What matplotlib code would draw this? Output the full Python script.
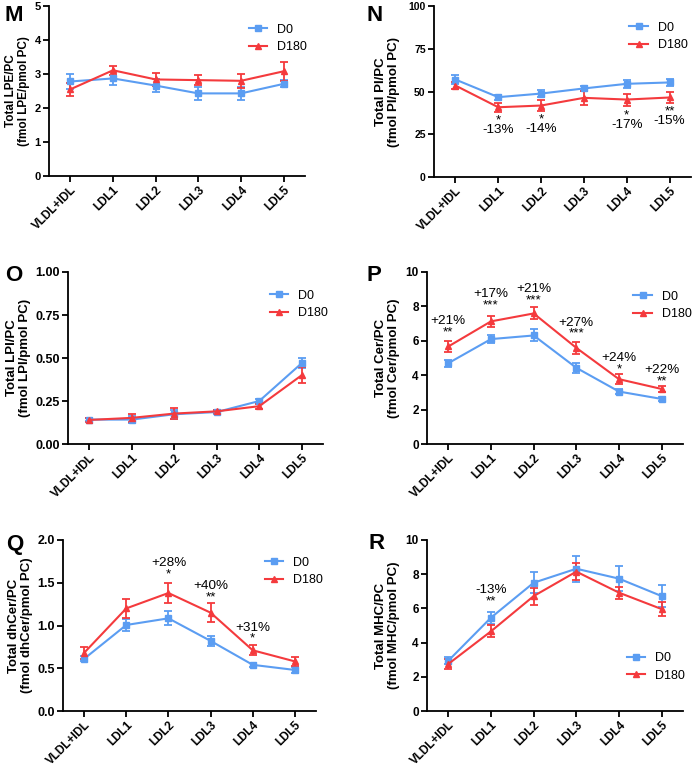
import matplotlib
matplotlib.use('Agg')
import matplotlib.pyplot as plt
from matplotlib.lines import Line2D
import numpy as np

plt.rcParams['font.family'] = ['Liberation Sans', 'DejaVu Sans']

fractions = ['VLDL+IDL', 'LDL1', 'LDL2', 'LDL3', 'LDL4', 'LDL5']
groups = ['D0', 'D180']

# panel M - LPE
lpe_d0 = [2.78, 2.87, 2.66, 2.43, 2.43, 2.71]
lpe_d0_err = [0.22, 0.20, 0.18, 0.18, 0.18, 0.10]
lpe_d180 = [2.55, 3.11, 2.84, 2.82, 2.80, 3.08]
lpe_d180_err = [0.20, 0.14, 0.20, 0.14, 0.20, 0.28]

# panel N - PI
pi_d0 = [57.0, 46.7, 48.8, 51.8, 54.5, 55.3]
pi_d0_err = [2.5, 1.5, 2.0, 1.5, 2.5, 2.0]
pi_d180 = [53.5, 40.8, 41.8, 46.3, 45.3, 46.5]
pi_d180_err = [2.0, 2.5, 3.0, 4.0, 3.5, 3.0]

# panel O - LPI
lpi_d0 = [0.142, 0.142, 0.173, 0.186, 0.25, 0.47]
lpi_d0_err = [0.01, 0.02, 0.025, 0.01, 0.01, 0.03]
lpi_d180 = [0.14, 0.152, 0.177, 0.19, 0.22, 0.40]
lpi_d180_err = [0.01, 0.025, 0.03, 0.01, 0.015, 0.045]

# panel P - Cer
cer_d0 = [4.70, 6.10, 6.31, 4.43, 3.05, 2.62]
cer_d0_err = [0.2, 0.25, 0.35, 0.3, 0.15, 0.1]
cer_d180 = [5.67, 7.13, 7.59, 5.59, 3.77, 3.20]
cer_d180_err = [0.3, 0.3, 0.35, 0.35, 0.3, 0.2]

# panel Q - dhCer
dhcer_d0 = [0.61, 1.006, 1.084, 0.82, 0.54, 0.48]
dhcer_d0_err = [0.03, 0.07, 0.08, 0.06, 0.02, 0.03]
dhcer_d180 = [0.68, 1.20, 1.38, 1.15, 0.71, 0.58]
dhcer_d180_err = [0.07, 0.11, 0.12, 0.11, 0.06, 0.05]

# panel R - MHC
mhc_d0 = [2.94, 5.46, 7.50, 8.32, 7.74, 6.72]
mhc_d0_err = [0.2, 0.35, 0.6, 0.75, 0.75, 0.65]
mhc_d180 = [2.75, 4.66, 6.72, 8.15, 6.92, 5.96]
mhc_d180_err = [0.3, 0.35, 0.5, 0.5, 0.35, 0.4]

# significance notes: (fraction index, label, y of label centre)
pi_notes = [(1, '*\n-13%', 30.3), (2, '*\n-14%', 31.0),
            (4, '*\n-17%', 33.3), (5, '**\n-15%', 35.6)]
cer_notes = [(0, '+21%\n**', 6.83), (1, '+17%\n***', 8.38),
             (2, '+21%\n***', 8.68), (3, '+27%\n***', 6.73),
             (4, '+24%\n*', 4.68), (5, '+22%\n**', 3.96)]
dhcer_notes = [(2, '+28%\n*', 1.66), (3, '+40%\n**', 1.40),
               (4, '+31%\n*', 0.91)]
mhc_notes = [(1, '-13%\n**', 6.75)]

blue = '#5b9df2'
red = '#f43a3d'

fig = plt.figure(figsize=(6.97, 7.69), dpi=100)

# letter, axes rect, lipid, series..., y range, y ticks, tick format, notes,
# legend loc, legend anchor, letter position, tick font, label font, label pad, note spacing
panels = [
    ('M', [0.0703, 0.7711, 0.3673, 0.2211], 'LPE', lpe_d0, lpe_d0_err, lpe_d180, lpe_d180_err,
     (0, 5), [0, 1, 2, 3, 4, 5], '{:.0f}', [], 'upper right', (1.05, 0.962), (0.007, 0.994),
     8, 8.5, 3, 0.95),
    ('N', [0.6227, 0.7698, 0.3687, 0.2224], 'PI', pi_d0, pi_d0_err, pi_d180, pi_d180_err,
     (0, 100), [0, 25, 50, 75, 100], '{:.0f}', pi_notes, 'upper right', (1.03, 0.975), (0.526, 0.993),
     7.5, 9.5, 6, 0.7),
    ('O', [0.0976, 0.4226, 0.3658, 0.2237], 'LPI', lpi_d0, lpi_d0_err, lpi_d180, lpi_d180_err,
     (0, 1), [0, 0.25, 0.5, 0.75, 1.0], '{:.2f}', [], 'upper right', (1.065, 0.963), (0.008, 0.656),
     9, 9.5, 3, 0.95),
    ('P', [0.6126, 0.4226, 0.3673, 0.2237], 'Cer', cer_d0, cer_d0_err, cer_d180, cer_d180_err,
     (0, 10), [0, 2, 4, 6, 8, 10], '{:.0f}', cer_notes, 'upper right', (1.077, 0.957), (0.526, 0.656),
     8.5, 9.5, 4, 0.92),
    ('Q', [0.0904, 0.0754, 0.3630, 0.2224], 'dhCer', dhcer_d0, dhcer_d0_err, dhcer_d180, dhcer_d180_err,
     (0, 2), [0, 0.5, 1.0, 1.5, 2.0], '{:.1f}', dhcer_notes, 'upper right', (1.072, 0.968), (0.009, 0.305),
     9, 9.5, 3, 0.92),
    ('R', [0.6126, 0.0754, 0.3673, 0.2224], 'MHC', mhc_d0, mhc_d0_err, mhc_d180, mhc_d180_err,
     (0, 10), [0, 2, 4, 6, 8, 10], '{:.0f}', mhc_notes, 'lower right', (1.053, 0.106), (0.529, 0.3075),
     8.5, 9.5, 4, 0.92),
]

x = np.arange(len(fractions))

handles = [Line2D([], [], color=blue, marker='s', markersize=5, lw=1.5),
           Line2D([], [], color=red, marker='^', markersize=5, lw=1.5)]

for (letter, pos, lipid, d0, d0e, d180, d180e, ylim, yticks, fmt, notes,
     leg_loc, leg_anchor, letter_pos, tick_fs, label_fs, pad, note_ls) in panels:
    ax = fig.add_axes(pos)
    ax.errorbar(x, d0, yerr=d0e, color=blue, marker='s', markersize=5, lw=1.5,
                capsize=3, capthick=1.3, elinewidth=1.3)
    ax.errorbar(x, d180, yerr=d180e, color=red, marker='^', markersize=5, lw=1.5,
                capsize=3, capthick=1.3, elinewidth=1.3)
    ax.set_xlim(-0.5, len(fractions) - 0.5)
    ax.set_ylim(*ylim)
    ax.set_yticks(yticks)
    ax.set_yticklabels([fmt.format(v) for v in yticks], fontsize=tick_fs, fontweight='bold')
    ax.set_xticks(x)
    ax.set_xticklabels(fractions, rotation=45, ha='right', rotation_mode='anchor',
                       fontsize=8.5, fontweight='bold')
    ax.spines['top'].set_visible(False)
    ax.spines['right'].set_visible(False)
    ax.spines['left'].set_linewidth(1.3)
    ax.spines['bottom'].set_linewidth(1.3)
    ax.tick_params(width=1.3, length=4, pad=2)
    ax.set_ylabel('Total %s/PC\n(fmol %s/pmol PC)' % (lipid, lipid),
                  fontsize=label_fs, fontweight='bold', labelpad=pad, linespacing=1.1)
    for i, label, y in notes:
        ax.text(x[i], y, label, ha='center', va='center', fontsize=9.7,
                linespacing=note_ls, multialignment='center')
    ax.legend(handles, groups, loc=leg_loc, bbox_to_anchor=leg_anchor, frameon=False,
              fontsize=9, handlelength=1.45, handletextpad=0.8, labelspacing=0.45)
    fig.text(letter_pos[0], letter_pos[1], letter, fontsize=16, fontweight='bold',
             ha='left', va='top')

fig.savefig('out.png', dpi=100)
